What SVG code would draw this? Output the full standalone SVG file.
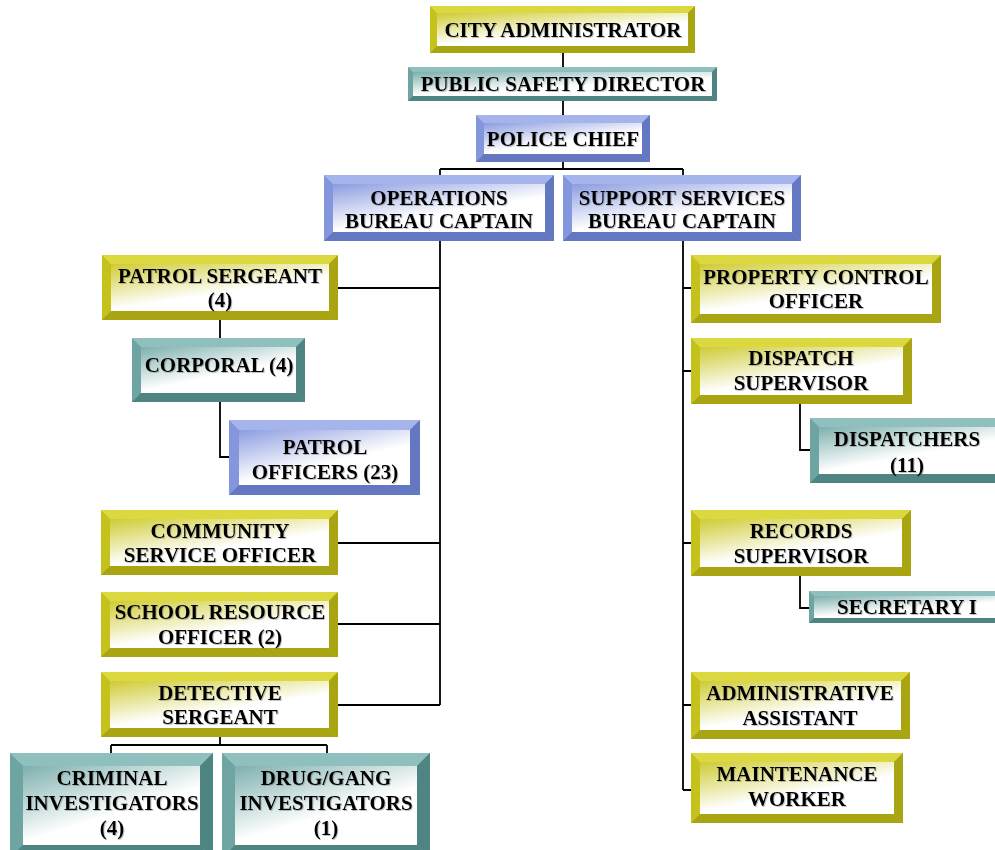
<svg xmlns="http://www.w3.org/2000/svg" width="995" height="850" viewBox="0 0 995 850">
<style>
.y .b{fill:#c6c21c}.y .l{fill:#dcd840}.y .d{fill:#a8a412}.y .i{fill:url(#gy)}
.t .b{fill:#6ea4a2}.t .l{fill:#8fc0be}.t .d{fill:#4e8482}.t .i{fill:url(#gt)}
.u .b{fill:#8597dc}.u .l{fill:#a6b4ec}.u .d{fill:#6478c2}.u .i{fill:url(#gu)}
text{font-family:"Liberation Serif","Times New Roman",serif;font-weight:bold;font-size:21px;fill:#000;text-anchor:middle;filter:url(#sh)}
.c{fill:none;stroke:#000;stroke-width:1.8}
</style>
<defs>
<linearGradient id="gy" x1="0" y1="0" x2="0.7" y2="1"><stop offset="0" stop-color="#cfcb35"/><stop offset="0.65" stop-color="#ffffff"/><stop offset="1" stop-color="#ffffff"/></linearGradient>
<linearGradient id="gt" x1="0" y1="0" x2="0.7" y2="1"><stop offset="0" stop-color="#7db0ae"/><stop offset="0.65" stop-color="#ffffff"/><stop offset="1" stop-color="#ffffff"/></linearGradient>
<linearGradient id="gu" x1="0" y1="0" x2="0.7" y2="1"><stop offset="0" stop-color="#8c9de0"/><stop offset="0.65" stop-color="#ffffff"/><stop offset="1" stop-color="#ffffff"/></linearGradient>
<filter id="sh" x="-5%" y="-20%" width="110%" height="140%"><feDropShadow dx="1" dy="1" stdDeviation="0.7" flood-color="#666" flood-opacity="0.4"/></filter>
</defs>

<g id="connectors">
<path class="c" d="M563,53V67M563,101V115M563,162V169M440,169H683M440,169V175M683,169V175"/>
<path class="c" d="M440,241V705M338,288H440M338,543H440M338,624H440M338,705H440"/>
<path class="c" d="M220,320V338M220,402V457H229"/>
<path class="c" d="M220,737V745M111,745H327M111,745V753M327,745V753"/>
<path class="c" d="M683,241V790M683,288H691M683,371H691M683,543H691M683,705H691M683,790H691"/>
<path class="c" d="M800,404V450H810M800,576V608H809"/>
</g>

<g id="city-administrator" class="y" transform="translate(430,6)">
<rect class="b" width="265" height="47"/><polygon class="l" points="0,0 265,0 258,7 7,7"/><polygon class="d" points="265,0 265,47 258,40 258,7"/><polygon class="d" points="0,47 265,47 258,40 7,40"/><rect class="i" x="7" y="7" width="251" height="33"/>
<text x="133" y="31">CITY ADMINISTRATOR</text></g>

<g id="public-safety-director" class="t" transform="translate(408,67)">
<rect class="b" width="309" height="34"/><polygon class="l" points="0,0 309,0 304,5 5,5"/><polygon class="d" points="309,0 309,34 304,29 304,5"/><polygon class="d" points="0,34 309,34 304,29 5,29"/><rect class="i" x="5" y="5" width="299" height="24"/>
<text x="155" y="24">PUBLIC SAFETY DIRECTOR</text></g>

<g id="police-chief" class="u" transform="translate(476,115)">
<rect class="b" width="174" height="47"/><polygon class="l" points="0,0 174,0 166,8 8,8"/><polygon class="d" points="174,0 174,47 166,39 166,8"/><polygon class="d" points="0,47 174,47 166,39 8,39"/><rect class="i" x="8" y="8" width="158" height="31"/>
<text x="87" y="31">POLICE CHIEF</text></g>

<g id="operations-bureau-captain" class="u" transform="translate(324,175)">
<rect class="b" width="230" height="66"/><polygon class="l" points="0,0 230,0 221,9 9,9"/><polygon class="d" points="230,0 230,66 221,57 221,9"/><polygon class="d" points="0,66 230,66 221,57 9,57"/><rect class="i" x="9" y="9" width="212" height="48"/>
<text x="115" y="30">OPERATIONS</text><text x="115" y="53">BUREAU CAPTAIN</text></g>

<g id="support-services-bureau-captain" class="u" transform="translate(563,175)">
<rect class="b" width="238" height="66"/><polygon class="l" points="0,0 238,0 229,9 9,9"/><polygon class="d" points="238,0 238,66 229,57 229,9"/><polygon class="d" points="0,66 238,66 229,57 9,57"/><rect class="i" x="9" y="9" width="220" height="48"/>
<text x="119" y="30">SUPPORT SERVICES</text><text x="119" y="53">BUREAU CAPTAIN</text></g>

<g id="patrol-sergeant" class="y" transform="translate(102,255)">
<rect class="b" width="236" height="65"/><polygon class="l" points="0,0 236,0 227,9 9,9"/><polygon class="d" points="236,0 236,65 227,56 227,9"/><polygon class="d" points="0,65 236,65 227,56 9,56"/><rect class="i" x="9" y="9" width="218" height="47"/>
<text x="118" y="28">PATROL SERGEANT</text><text x="118" y="52">(4)</text></g>

<g id="corporal" class="t" transform="translate(132,338)">
<rect class="b" width="173" height="64"/><polygon class="l" points="0,0 173,0 164,9 9,9"/><polygon class="d" points="173,0 173,64 164,55 164,9"/><polygon class="d" points="0,64 173,64 164,55 9,55"/><rect class="i" x="9" y="9" width="155" height="46"/>
<text x="87" y="34">CORPORAL (4)</text></g>

<g id="patrol-officers" class="u" transform="translate(229,420)">
<rect class="b" width="191" height="75"/><polygon class="l" points="0,0 191,0 181,10 10,10"/><polygon class="d" points="191,0 191,75 181,65 181,10"/><polygon class="d" points="0,75 191,75 181,65 10,65"/><rect class="i" x="10" y="10" width="171" height="55"/>
<text x="96" y="34">PATROL</text><text x="96" y="59">OFFICERS (23)</text></g>

<g id="community-service-officer" class="y" transform="translate(101,510)">
<rect class="b" width="237" height="65"/><polygon class="l" points="0,0 237,0 228,9 9,9"/><polygon class="d" points="237,0 237,65 228,56 228,9"/><polygon class="d" points="0,65 237,65 228,56 9,56"/><rect class="i" x="9" y="9" width="219" height="47"/>
<text x="119" y="28">COMMUNITY</text><text x="119" y="52">SERVICE OFFICER</text></g>

<g id="school-resource-officer" class="y" transform="translate(101,592)">
<rect class="b" width="237" height="65"/><polygon class="l" points="0,0 237,0 228,9 9,9"/><polygon class="d" points="237,0 237,65 228,56 228,9"/><polygon class="d" points="0,65 237,65 228,56 9,56"/><rect class="i" x="9" y="9" width="219" height="47"/>
<text x="119" y="27">SCHOOL RESOURCE</text><text x="119" y="52">OFFICER (2)</text></g>

<g id="detective-sergeant" class="y" transform="translate(101,672)">
<rect class="b" width="237" height="65"/><polygon class="l" points="0,0 237,0 228,9 9,9"/><polygon class="d" points="237,0 237,65 228,56 228,9"/><polygon class="d" points="0,65 237,65 228,56 9,56"/><rect class="i" x="9" y="9" width="219" height="47"/>
<text x="119" y="28">DETECTIVE</text><text x="119" y="52">SERGEANT</text></g>

<g id="criminal-investigators" class="t" transform="translate(10,753)">
<rect class="b" width="203" height="105"/><polygon class="l" points="0,0 203,0 190,13 13,13"/><polygon class="d" points="203,0 203,105 190,92 190,13"/><polygon class="d" points="0,105 203,105 190,92 13,92"/><rect class="i" x="13" y="13" width="177" height="79"/>
<text x="102" y="32">CRIMINAL</text><text x="102" y="57">INVESTIGATORS</text><text x="102" y="82">(4)</text></g>

<g id="drug-gang-investigators" class="t" transform="translate(222,753)">
<rect class="b" width="208" height="105"/><polygon class="l" points="0,0 208,0 195,13 13,13"/><polygon class="d" points="208,0 208,105 195,92 195,13"/><polygon class="d" points="0,105 208,105 195,92 13,92"/><rect class="i" x="13" y="13" width="182" height="79"/>
<text x="104" y="32">DRUG/GANG</text><text x="104" y="57">INVESTIGATORS</text><text x="104" y="82">(1)</text></g>

<g id="property-control-officer" class="y" transform="translate(691,255)">
<rect class="b" width="250" height="68"/><polygon class="l" points="0,0 250,0 241,9 9,9"/><polygon class="d" points="250,0 250,68 241,59 241,9"/><polygon class="d" points="0,68 250,68 241,59 9,59"/><rect class="i" x="9" y="9" width="232" height="50"/>
<text x="125" y="29">PROPERTY CONTROL</text><text x="125" y="53">OFFICER</text></g>

<g id="dispatch-supervisor" class="y" transform="translate(691,338)">
<rect class="b" width="221" height="66"/><polygon class="l" points="0,0 221,0 212,9 9,9"/><polygon class="d" points="221,0 221,66 212,57 212,9"/><polygon class="d" points="0,66 221,66 212,57 9,57"/><rect class="i" x="9" y="9" width="203" height="48"/>
<text x="110" y="27">DISPATCH</text><text x="110" y="52">SUPERVISOR</text></g>

<g id="dispatchers" class="t" transform="translate(810,418)">
<rect class="b" width="195" height="65"/><polygon class="l" points="0,0 195,0 186,9 9,9"/><polygon class="d" points="195,0 195,65 186,56 186,9"/><polygon class="d" points="0,65 195,65 186,56 9,56"/><rect class="i" x="9" y="9" width="177" height="47"/>
<text x="97" y="28">DISPATCHERS</text><text x="97" y="54">(11)</text></g>

<g id="records-supervisor" class="y" transform="translate(691,510)">
<rect class="b" width="220" height="66"/><polygon class="l" points="0,0 220,0 211,9 9,9"/><polygon class="d" points="220,0 220,66 211,57 211,9"/><polygon class="d" points="0,66 220,66 211,57 9,57"/><rect class="i" x="9" y="9" width="202" height="48"/>
<text x="110" y="28">RECORDS</text><text x="110" y="53">SUPERVISOR</text></g>

<g id="secretary-i" class="t" transform="translate(809,591)">
<rect class="b" width="195" height="32"/><polygon class="l" points="0,0 195,0 190,5 5,5"/><polygon class="d" points="195,0 195,32 190,27 190,5"/><polygon class="d" points="0,32 195,32 190,27 5,27"/><rect class="i" x="5" y="5" width="185" height="22"/>
<text x="98" y="23">SECRETARY I</text></g>

<g id="administrative-assistant" class="y" transform="translate(691,672)">
<rect class="b" width="219" height="67"/><polygon class="l" points="0,0 219,0 210,9 9,9"/><polygon class="d" points="219,0 219,67 210,58 210,9"/><polygon class="d" points="0,67 219,67 210,58 9,58"/><rect class="i" x="9" y="9" width="201" height="49"/>
<text x="109" y="28">ADMINISTRATIVE</text><text x="109" y="53">ASSISTANT</text></g>

<g id="maintenance-worker" class="y" transform="translate(691,753)">
<rect class="b" width="212" height="70"/><polygon class="l" points="0,0 212,0 203,9 9,9"/><polygon class="d" points="212,0 212,70 203,61 203,9"/><polygon class="d" points="0,70 212,70 203,61 9,61"/><rect class="i" x="9" y="9" width="194" height="52"/>
<text x="106" y="28">MAINTENANCE</text><text x="106" y="53">WORKER</text></g>
</svg>
